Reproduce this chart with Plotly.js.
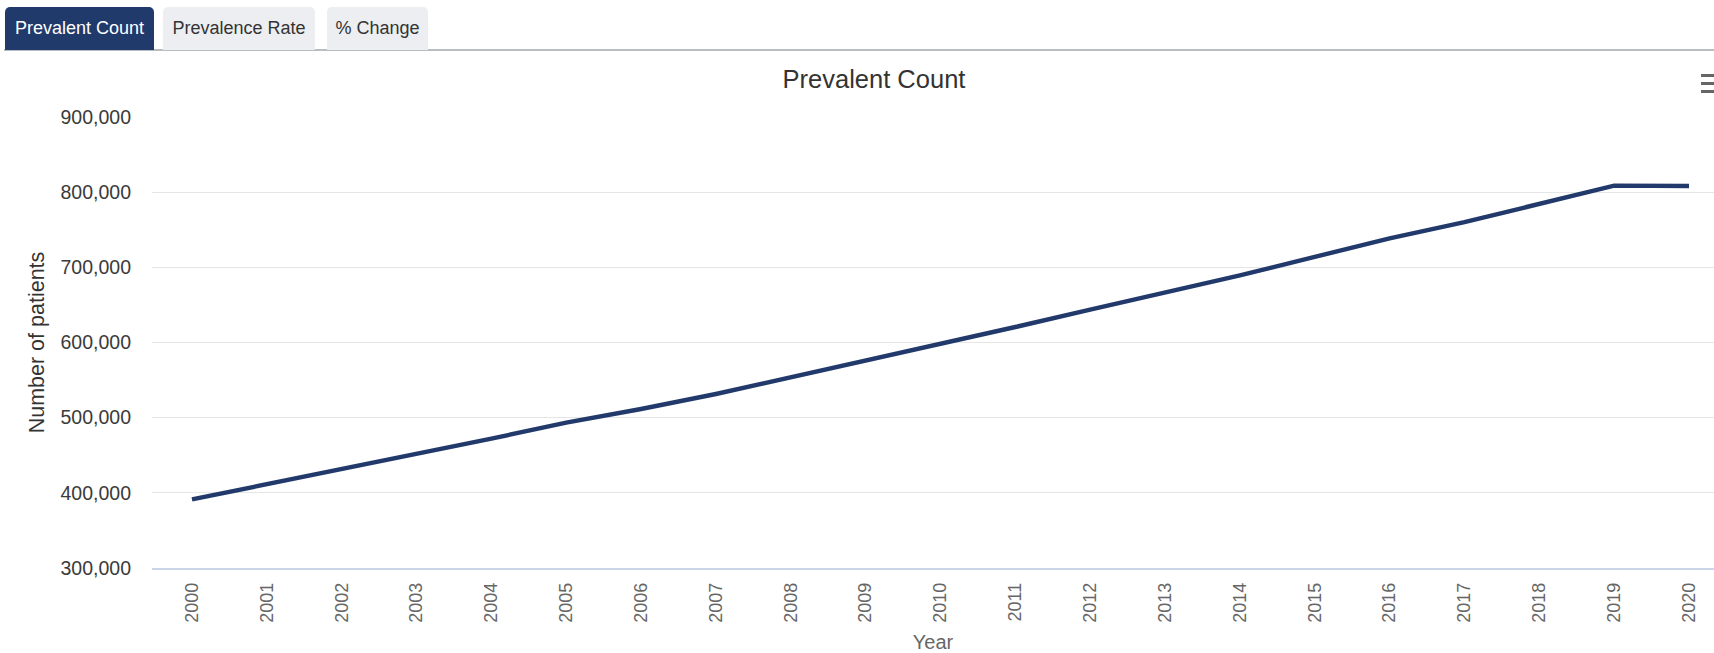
<!DOCTYPE html>
<html>
<head>
<meta charset="utf-8">
<script src="https://cdn.plot.ly/plotly-3.0.1.min.js"></script>
<style>
  html, body { margin: 0; padding: 0; background: #fff; overflow: hidden; }
  body { width: 1714px; height: 653px; position: relative; font-family: "Liberation Sans", Arial, sans-serif; }
  #chart { position: absolute; left: 0; top: 0; width: 1714px; height: 653px; }
  .tabs { position: absolute; left: 0; top: 0; width: 1714px; height: 52px; z-index: 2; }
  .tabline { position: absolute; left: 4px; right: 0; top: 49px; height: 2px; background: #b9bcc2; }
  .tab { position: absolute; top: 7px; height: 43px; border-radius: 5px 5px 0 0;
         font-size: 18px; line-height: 42px; text-align: center; }
  .tab.active { background: #213a6c; color: #fff; }
  .tab.idle { background: #eceef2; color: #333; }
  .menu { position: absolute; left: 1701px; top: 74px; width: 16px; z-index: 2; }
  .menu div { height: 3px; background: #666; margin-bottom: 5px; }
</style>
</head>
<body>
<div id="chart"></div>
<div class="tabs">
  <div class="tabline"></div>
  <div class="tab active" style="left:5px;width:149px;">Prevalent Count</div>
  <div class="tab idle" style="left:163px;width:152px;">Prevalence Rate</div>
  <div class="tab idle" style="left:327px;width:101px;">% Change</div>
</div>
<div class="menu"><div></div><div></div><div></div></div>
<script>
// Prevalent patient counts by year
const years = ["2000","2001","2002","2003","2004","2005","2006","2007","2008","2009","2010",
               "2011","2012","2013","2014","2015","2016","2017","2018","2019","2020"];
const patients = [391200, 411500, 431000, 451000, 472000, 493500, 511500, 531500, 553500, 575600, 598000,
                  620600, 643600, 666000, 689400, 713900, 738500, 760100, 784500, 808700, 808200];
const yTicks = [300000, 400000, 500000, 600000, 700000, 800000, 900000];

const FONT = '"Liberation Sans", Arial, sans-serif';

const trace = {
  type: 'scatter',
  mode: 'lines',
  x: years,
  y: patients,
  line: { color: '#223a6b', width: 4.4, shape: 'linear' },
  hoverinfo: 'x+y',
  showlegend: false
};

const layout = {
  width: 1714,
  height: 653,
  margin: { l: 152, r: 0, t: 117, b: 85, pad: 0 },
  paper_bgcolor: '#ffffff',
  plot_bgcolor: '#ffffff',
  font: { family: FONT, color: '#333' },
  title: {
    text: 'Prevalent Count',
    font: { family: FONT, size: 25.5, color: '#333333' },
    xref: 'container', x: 874 / 1714, xanchor: 'center',
    yref: 'container', y: 1 - 79 / 653, yanchor: 'middle'
  },
  xaxis: {
    type: 'category',
    range: [-0.534, 20.334],
    tickangle: -90,
    ticks: '',
    ticklabelstandoff: 6,
    tickfont: { family: FONT, size: 18, color: '#666666' },
    showgrid: false,
    showline: true,
    linecolor: '#ccd6eb',
    linewidth: 1.5,
    zeroline: false,
    fixedrange: true,
    title: { text: 'Year', font: { family: FONT, size: 20, color: '#666666' }, standoff: 17 }
  },
  yaxis: {
    range: [300000, 900000],
    tickvals: yTicks,
    tickformat: ',d',
    ticks: '',
    ticklabelstandoff: 20,
    tickfont: { family: FONT, size: 19.5, color: '#3a3a3a' },
    showgrid: true,
    gridcolor: '#e6e6e6',
    gridwidth: 1.3,
    showline: false,
    zeroline: false,
    fixedrange: true,
    title: { text: 'Number of patients', font: { family: FONT, size: 21.5, color: '#333333' }, standoff: 9 }
  }
};

Plotly.newPlot('chart', [trace], layout, { displayModeBar: false, staticPlot: true });
</script>
</body>
</html>
